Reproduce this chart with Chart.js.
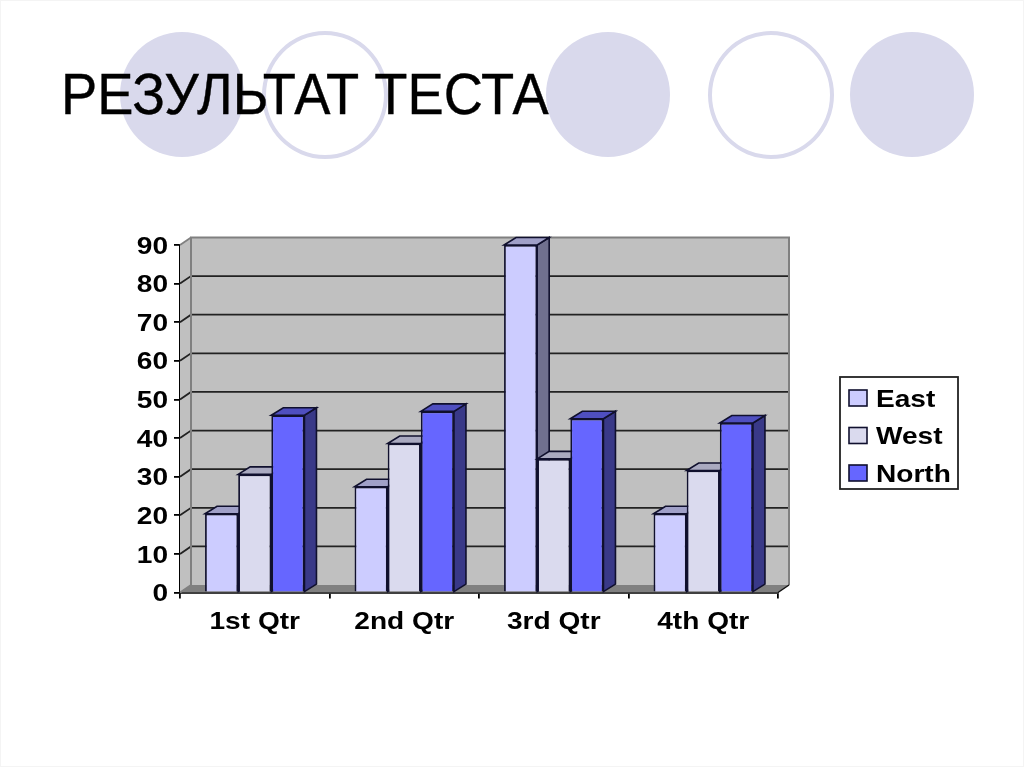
<!DOCTYPE html>
<html>
<head>
<meta charset="utf-8">
<title>Результат теста</title>
<script src="https://cdn.jsdelivr.net/npm/chart.js@4"></script>
<style>
    html, body { margin: 0; padding: 0; background: #fff; overflow: hidden; }
    #slide { position: relative; width: 1024px; height: 767px; box-sizing: border-box; border: 1px solid #f4f4f4; overflow: hidden; }
    .dot { position: absolute; top: 31px; width: 124px; height: 125px; border-radius: 50%; background: #d9d9ec; box-sizing: border-box; }
    .dot.ring { top: 30px; width: 126px; height: 128px; background: #fff; border: 4px solid #d9d9ec; }
    #title { position: absolute; left: 60px; top: 65px; margin: 0; font: 400 57px/56px "Liberation Sans", sans-serif; color: #000; -webkit-text-stroke: 0.4px #000; white-space: nowrap; transform: scaleX(0.952); transform-origin: left top; }
    canvas { position: absolute; left: -1px; top: -1px; }
</style>
</head>
<body>
<div id="slide">
    <div class="dot" style="left:119px"></div>
    <div class="dot ring" style="left:261px"></div>
    <div class="dot" style="left:545px"></div>
    <div class="dot ring" style="left:707px"></div>
    <div class="dot" style="left:849px"></div>
    <h1 id="title">РЕЗУЛЬТАТ ТЕСТА</h1>
    <canvas id="chart" width="1024" height="767"></canvas>
</div>
<script>
// --- Data ---
const categories = ['1st Qtr', '2nd Qtr', '3rd Qtr', '4th Qtr'];
const seriesNames = ['East', 'West', 'North'];
const east = [20.4, 27.4, 90, 20.4];
const west = [30.6, 38.6, 34.6, 31.6];
const north = [45.9, 46.9, 45, 43.9];

// --- Look ---
const frontColors = ['#ccccff', '#dadaee', '#6666ff'];
const topColors = ['#a0a0c8', '#a9a9c0', '#4f4fc0'];
const sideColors = ['#70708f', '#8a8aa0', '#393988'];
const edge = '#10102e';
const wallDepth = { x: 11, y: 7.5 };
const barDepth = { x: 12, y: 7.5 };
const labelFont = 'bold 24px "Liberation Sans", sans-serif';
const labelStretch = 1.17;

// Arial in the picture is stretched sideways, canvas fonts can't do that on their own
function drawLabel(ctx, text, x, y, align) {
    ctx.save();
    ctx.font = labelFont;
    ctx.fillStyle = '#000';
    ctx.textAlign = align;
    ctx.textBaseline = 'middle';
    ctx.translate(x, y + 2);
    ctx.scale(labelStretch, 1);
    ctx.fillText(text, 0, 0);
    ctx.restore();
}

function polygon(ctx, points, fill, stroke, width) {
    ctx.beginPath();
    points.forEach((p, i) => (i ? ctx.lineTo(p[0], p[1]) : ctx.moveTo(p[0], p[1])));
    ctx.closePath();
    ctx.fillStyle = fill;
    ctx.fill();
    if (stroke) {
        ctx.strokeStyle = stroke;
        ctx.lineWidth = width;
        ctx.stroke();
    }
}

// Back wall, side wall, floor and the gridlines running over them
function drawWalls(chart) {
    const { ctx, chartArea: a, scales } = chart;
    const dx = wallDepth.x, dy = wallDepth.y;
    polygon(ctx, [[a.left, a.top], [a.left + dx, a.top - dy], [a.left + dx, a.bottom - dy], [a.left, a.bottom]], '#c0c0c0');
    polygon(ctx, [[a.left + dx, a.top - dy], [a.right + dx, a.top - dy], [a.right + dx, a.bottom - dy], [a.left + dx, a.bottom - dy]], '#c0c0c0');
    polygon(ctx, [[a.left, a.bottom], [a.left + dx, a.bottom - dy], [a.right + dx, a.bottom - dy], [a.right, a.bottom]], '#808080');

    ctx.lineWidth = 1.8;
    scales.y.ticks.forEach(t => {
        const y = scales.y.getPixelForValue(t.value);
        const inner = t.value > scales.y.min && t.value < scales.y.max;
        ctx.strokeStyle = inner ? '#222' : '#808080';
        ctx.beginPath();
        ctx.moveTo(a.left, y);
        ctx.lineTo(a.left + dx, y - dy);
        if (inner) ctx.lineTo(a.right + dx, y - dy);
        ctx.stroke();
    });

    ctx.strokeStyle = '#808080';
    ctx.lineWidth = 2;
    ctx.beginPath();
    ctx.moveTo(a.left + dx, a.bottom - dy);
    ctx.lineTo(a.left + dx, a.top - dy);
    ctx.lineTo(a.right + dx, a.top - dy);
    ctx.lineTo(a.right + dx, a.bottom - dy);
    ctx.stroke();

    ctx.strokeStyle = '#111';
    ctx.lineWidth = 1.5;
    ctx.beginPath();
    ctx.moveTo(a.right, a.bottom);
    ctx.lineTo(a.right + dx, a.bottom - dy);
    ctx.stroke();
}

function drawBarFaces(ctx, bar, i) {
    const dx = barDepth.x, dy = barDepth.y;
    const x1 = bar.x - bar.width / 2, x2 = bar.x + bar.width / 2;
    polygon(ctx, [[x2, bar.y], [x2 + dx, bar.y - dy], [x2 + dx, bar.base - dy], [x2, bar.base]], sideColors[i], edge, 1.6);
    polygon(ctx, [[x1, bar.y], [x1 + dx, bar.y - dy], [x2 + dx, bar.y - dy], [x2, bar.y]], topColors[i], edge, 1.6);
}

const fake3d = {
    id: 'fake3d',
    // chart.js paints datasets last to first, here the painter's order must be East -> North
    beforeDatasetsDraw(chart) {
        const ctx = chart.ctx;
        drawWalls(chart);
        chart.data.datasets.forEach((ds, i) => {
            chart.getDatasetMeta(i).data.forEach(bar => {
                drawBarFaces(ctx, bar, i);
                bar.draw(ctx);
            });
        });
        return false;
    },
    afterDraw(chart) {
        const { ctx, scales } = chart;

        // axis labels, positions come from the scales
        scales.y.ticks.forEach(t => {
            drawLabel(ctx, String(t.value), 168, scales.y.getPixelForValue(t.value), 'right');
        });
        categories.forEach((c, i) => {
            drawLabel(ctx, c, scales.x.getPixelForValue(i), 620, 'center');
        });

        // legend box
        ctx.strokeStyle = '#222';
        ctx.lineWidth = 1.8;
        ctx.strokeRect(840, 377, 118, 112);
        seriesNames.forEach((name, i) => {
            const y = 398 + i * 37.5;
            ctx.fillStyle = frontColors[i];
            ctx.fillRect(849, y - 8, 18, 16);
            ctx.strokeStyle = edge;
            ctx.lineWidth = 1.6;
            ctx.strokeRect(849, y - 8, 18, 16);
            drawLabel(ctx, name, 876, y, 'left');
        });
    }
};

const seriesValues = [east, west, north];

new Chart(document.getElementById('chart'), {
    type: 'bar',
    data: {
        labels: categories,
        datasets: seriesNames.map((name, i) => ({
            label: name,
            data: seriesValues[i],
            backgroundColor: frontColors[i],
            borderColor: edge,
            borderWidth: 1.8,
            categoryPercentage: 0.665,
            barPercentage: 1
        }))
    },
    options: {
        responsive: false,
        animation: false,
        layout: { padding: { left: 120, top: 245, right: 246, bottom: 120 } },
        plugins: {
            legend: { display: false },
            title: { display: false },
            tooltip: { enabled: false }
        },
        scales: {
            x: {
                afterFit: s => { s.height = 54.5; },
                border: { color: '#000', width: 1.8 },
                grid: { drawOnChartArea: false, color: '#000', lineWidth: 1.8, tickLength: 6 },
                ticks: { display: false }
            },
            y: {
                min: 0,
                max: 90,
                afterFit: s => { s.width = 60; },
                border: { color: '#000', width: 1.8 },
                grid: { drawOnChartArea: false, color: '#000', lineWidth: 1.8, tickLength: 6 },
                ticks: { display: false, stepSize: 10 }
            }
        }
    },
    plugins: [fake3d]
});
</script>
</body>
</html>
